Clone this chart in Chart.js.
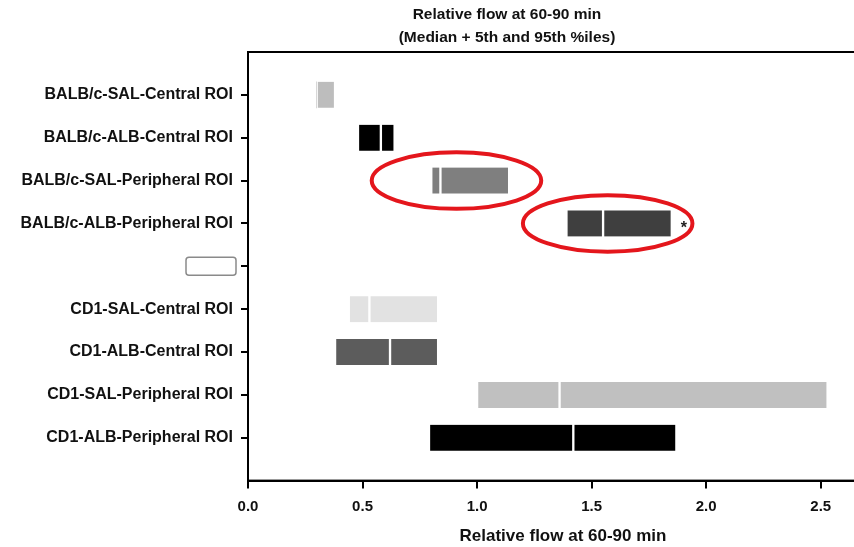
<!DOCTYPE html>
<html>
<head>
<meta charset="utf-8">
<script src="https://cdn.jsdelivr.net/npm/chart.js@4.4.1/dist/chart.umd.min.js"></script>
<style>
  html, body { margin: 0; padding: 0; background: #fff; overflow: hidden; }
  #wrap { width: 880px; height: 547px; }
</style>
</head>
<body>
<div id="wrap"><canvas id="flowChart"></canvas></div>
<script>
// rows, top to bottom ('' = empty spacer row)
const groups = [
    'BALB/c-SAL-Central ROI',
    'BALB/c-ALB-Central ROI',
    'BALB/c-SAL-Peripheral ROI',
    'BALB/c-ALB-Peripheral ROI',
    '',
    'CD1-SAL-Central ROI',
    'CD1-ALB-Central ROI',
    'CD1-SAL-Peripheral ROI',
    'CD1-ALB-Peripheral ROI'
];
const p5     = [0.30, 0.48, 0.80, 1.39, null, 0.44, 0.38, 1.00, 0.79];
const median = [0.30, 0.58, 0.84, 1.55, null, 0.53, 0.62, 1.36, 1.42];
const p95    = [0.38, 0.64, 1.14, 1.85, null, 0.83, 0.83, 2.53, 1.87];
const barColors = ['#bdbdbd', '#000000', '#7f7f7f', '#3f3f3f', null, '#e2e2e2', '#5c5c5c', '#c0c0c0', '#000000'];
const xTickStep = 0.5;
const xMax = 2.75;
const titleLines = ['Relative flow at 60-90 min', '(Median + 5th and 95th %iles)'];
const xTitle = 'Relative flow at 60-90 min';
const starredRows = [3];
const circled = [
    { row: 2, centre: 0.91, halfWidth: 0.37 },
    { row: 3, centre: 1.57, halfWidth: 0.37 }
];

// one empty category above and below so rows sit inside the frame
const labels = [''].concat(groups, ['']);
const pad = arr => [null].concat(arr, [null]);
const lower = pad(p5.map((v, i) => v == null ? null : [v, median[i]]));
const upper = pad(p95.map((v, i) => v == null ? null : [median[i], v]));
const colors = pad(barColors);

const FONT = "'Liberation Sans', Arial, sans-serif";

const decorations = {
    id: 'decorations',
    afterDraw(chart) {
        const ctx = chart.ctx;
        const area = chart.chartArea;
        const x = chart.scales.x;
        const y = chart.scales.y;
        const rowStep = y.getPixelForValue(2) - y.getPixelForValue(1);
        ctx.save();

        // frame around plot
        ctx.strokeStyle = '#000';
        ctx.lineWidth = 2;
        ctx.strokeRect(area.left, area.top, area.right - area.left, area.bottom - area.top);

        // title
        ctx.fillStyle = '#111';
        ctx.font = 'bold 15.5px ' + FONT;
        ctx.textAlign = 'center';
        ctx.textBaseline = 'middle';
        const tx = area.left + 259;
        ctx.fillText(titleLines[0], tx, 15);
        ctx.fillText(titleLines[1], tx, 38);

        // empty legend-like box at the spacer row
        const blank = groups.indexOf('') + 1;
        const by = y.getPixelForValue(blank);
        ctx.strokeStyle = '#8a8a8a';
        ctx.lineWidth = 1.5;
        ctx.beginPath();
        if (ctx.roundRect) ctx.roundRect(area.left - 62, by - 9, 50, 18, 3);
        else ctx.rect(area.left - 62, by - 9, 50, 18);
        ctx.stroke();

        // asterisks
        ctx.fillStyle = '#222';
        ctx.font = 'bold 16px ' + FONT;
        starredRows.forEach(r => {
            ctx.fillText('*', x.getPixelForValue(p95[r]) + 12, y.getPixelForValue(r + 1) + 5);
        });

        // red circles
        ctx.strokeStyle = '#e4161c';
        ctx.lineWidth = 4;
        circled.forEach(c => {
            const cx = x.getPixelForValue(c.centre);
            const rx = x.getPixelForValue(c.centre + c.halfWidth) - cx;
            const cy = y.getPixelForValue(c.row + 1);
            ctx.beginPath();
            ctx.ellipse(cx, cy, rx, rowStep * 0.66, 0, 0, Math.PI * 2);
            ctx.stroke();
        });
        ctx.restore();
    }
};

const segment = {
    backgroundColor: colors,
    borderColor: '#ffffff',
    borderWidth: { left: 1.5, right: 1.5, top: 0, bottom: 0 },
    borderSkipped: false,
    barThickness: 26,
    grouped: false
};

new Chart(document.getElementById('flowChart'), {
    type: 'bar',
    data: {
        labels: labels,
        datasets: [
            Object.assign({ label: '5th - median', data: lower }, segment),
            Object.assign({ label: 'median - 95th', data: upper }, segment)
        ]
    },
    options: {
        indexAxis: 'y',
        responsive: true,
        maintainAspectRatio: false,
        animation: false,
        layout: { padding: { top: 52, right: 2, bottom: 0, left: 0 } },
        plugins: {
            legend: { display: false },
            tooltip: { enabled: false }
        },
        scales: {
            x: {
                type: 'linear',
                min: 0,
                max: xMax,
                grid: { drawOnChartArea: false, color: '#000', lineWidth: 2, tickLength: 8 },
                border: { display: true, color: '#000', width: 2 },
                ticks: {
                    stepSize: xTickStep,
                    includeBounds: false,
                    color: '#111',
                    padding: 9,
                    font: { family: FONT, size: 15, weight: 'bold' },
                    callback: v => v.toFixed(1)
                },
                title: {
                    display: true,
                    text: xTitle,
                    color: '#111',
                    font: { family: FONT, size: 17, weight: 'bold' },
                    padding: { top: 2, bottom: 0 }
                }
            },
            y: {
                type: 'category',
                offset: false,
                grid: {
                    offset: false,
                    drawOnChartArea: false,
                    lineWidth: 2,
                    tickLength: 7,
                    color: c => (c.index === 0 || c.index === labels.length - 1) ? 'rgba(0,0,0,0)' : '#000'
                },
                border: { display: true, color: '#000', width: 2 },
                ticks: {
                    color: '#111',
                    padding: 8,
                    autoSkip: false,
                    font: { family: FONT, size: 16, weight: 'bold' }
                },
                afterFit: s => { s.width = 248; }
            }
        }
    },
    plugins: [decorations]
});
</script>
</body>
</html>
